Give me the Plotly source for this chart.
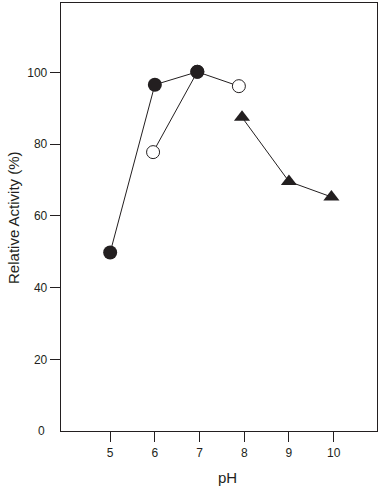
import plotly.graph_objects as go

# Data
filled_x = [5, 6, 6.95]
filled_y = [49.8, 96.6, 100.2]
open_x = [5.96, 6.95, 7.88]
open_y = [77.8, 100.2, 96.2]
tri_x = [7.95, 9, 9.95]
tri_y = [87.5, 69.6, 65.3]

x_ticks = [5, 6, 7, 8, 9, 10]
y_ticks = [20, 40, 60, 80, 100]
y_zero = [0]

INK = "#231f20"
FONT = "Liberation Sans, Arial, sans-serif"

fig = go.Figure()
fig.add_trace(go.Scatter(x=open_x, y=open_y, mode="lines+markers",
                         line=dict(color=INK, width=1),
                         marker=dict(symbol="circle", size=13, color="white",
                                     line=dict(color=INK, width=1)),
                         showlegend=False))
fig.add_trace(go.Scatter(x=filled_x, y=filled_y, mode="lines+markers",
                         line=dict(color=INK, width=1),
                         marker=dict(symbol="circle", size=14, color=INK,
                                     line=dict(width=0)),
                         showlegend=False))
fig.add_trace(go.Scatter(x=tri_x, y=tri_y, mode="lines+markers",
                         line=dict(color=INK, width=1),
                         marker=dict(symbol="triangle-up", size=14, color=INK,
                                     line=dict(width=0)),
                         showlegend=False))
# invisible trace to activate overlay axis for the "0" label
fig.add_trace(go.Scatter(x=[None], y=[None], yaxis="y2", showlegend=False,
                         hoverinfo="skip"))

fig.update_layout(
    template="none",
    width=381, height=487,
    margin=dict(l=61, r=4, t=3, b=56, pad=0, autoexpand=False),
    paper_bgcolor="white", plot_bgcolor="white",
    font=dict(family=FONT, color=INK, size=12),
    xaxis=dict(range=[3.9, 10.97], tickvals=x_ticks, ticks="outside",
               ticklen=10, tickwidth=1, tickcolor=INK, automargin=False,
               showline=True, linecolor=INK, linewidth=1.3, mirror=True,
               showgrid=False, zeroline=False,
               tickfont=dict(size=12, family=FONT, color=INK)),
    yaxis=dict(range=[0, 119.4], tickvals=y_ticks, ticks="outside",
               ticklen=10, tickwidth=1, tickcolor=INK, automargin=False,
               showline=True, linecolor=INK, linewidth=1.3, mirror=True,
               showgrid=False, zeroline=False,
               tickfont=dict(size=12, family=FONT, color=INK)),
    yaxis2=dict(range=[0, 119.4], overlaying="y", side="left",
                tickvals=y_zero, ticks="outside", ticklen=13,
                tickcolor="rgba(0,0,0,0)", showline=False, showgrid=False,
                zeroline=False, automargin=False,
                tickfont=dict(size=12, family=FONT, color=INK)),
    annotations=[
        dict(text="Relative Activity (%)", xref="paper", yref="paper",
             x=-0.152, y=0.5, xanchor="center", yanchor="middle",
             textangle=-90, showarrow=False,
             font=dict(size=15, family=FONT, color=INK)),
        dict(text="pH", xref="paper", yref="paper",
             x=0.528, y=-0.1075, xanchor="center", yanchor="middle",
             showarrow=False, font=dict(size=15, family=FONT, color=INK)),
    ],
)

fig.write_html("out.html",
               config={"displayModeBar": False, "staticPlot": True},
               post_script="document.body.style.margin='0';"
                           "document.body.style.overflow='hidden';")
